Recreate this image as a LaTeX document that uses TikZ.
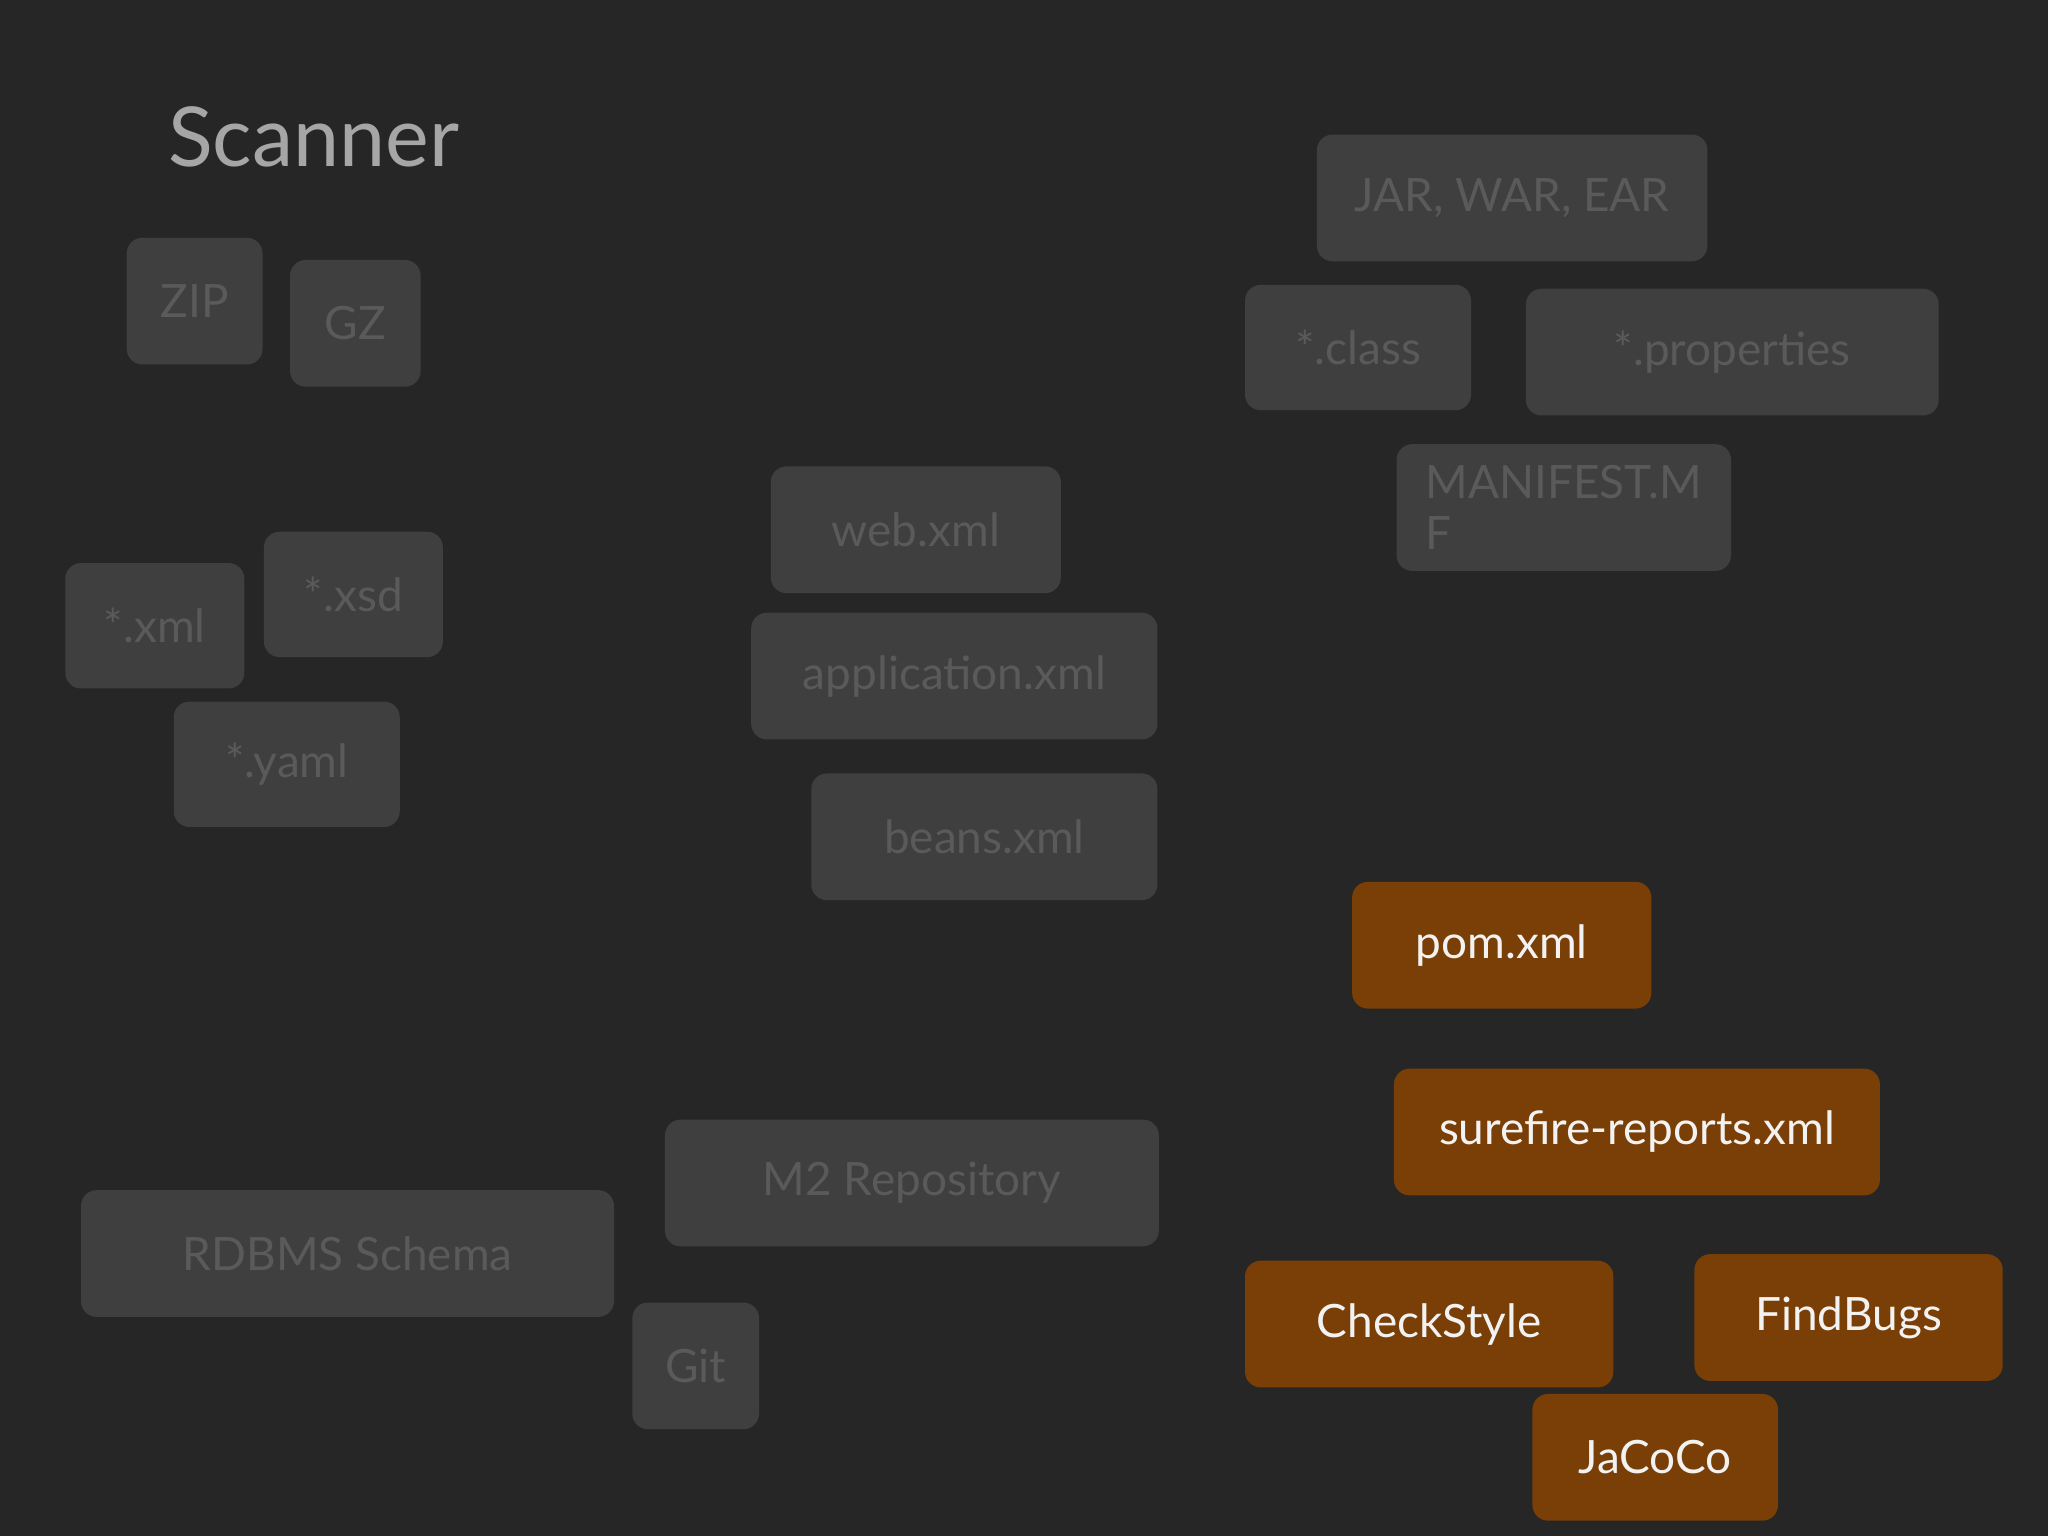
\documentclass[tikz,border=0pt]{standalone}
\usepackage{fontspec}
\setmainfont{Lato}
\definecolor{bg}{HTML}{262626}
\definecolor{gbox}{HTML}{3F3F3F}
\definecolor{gtext}{HTML}{5A5A5A}
\definecolor{obox}{HTML}{7A3F06}
\definecolor{otext}{HTML}{F2F2F2}
\newcommand\bx[7]{\node[#6, minimum width={(#4-#2)*0.02cm}, minimum height={(#5-#3)*0.02cm}] (#1) at ({(#2+#4)/2*0.02},{-(#3+#5)/2*0.02}) {#7};}
\tikzset{
 base/.style={rounded corners=0.24cm, inner sep=0pt, font=\fontsize{20}{22}\selectfont, align=center},
 grey/.style={base, fill=gbox, text=gtext},
 orange/.style={base, fill=obox, text=otext}
}
\begin{document}
\begin{tikzpicture}
\fill[bg] (0,0) rectangle (31.36,-23.52);
\useasboundingbox (0,0) rectangle (31.36,-23.52);
\node[anchor=west, text=gray!70, font=\fontsize{36}{40}\selectfont] (title) at (2.45,-2.1) {Scanner};
\bx{zip}{97}{182}{201}{279}{grey}{ZIP}
\bx{gz}{222}{199}{322}{296}{grey}{GZ}
\bx{jar}{1008}{103}{1307}{200}{grey}{JAR, WAR, EAR}
\bx{cls}{953}{218}{1126}{314}{grey}{*.class}
\bx{prop}{1168}{221}{1484}{318}{grey}{*.properties}
\bx{man}{1069}{340}{1325}{437}{grey,align=left}{MANIFEST.M\\F}
\bx{web}{590}{357}{812}{454}{grey}{web.xml}
\bx{xml}{50}{431}{187}{527}{grey}{*.xml}
\bx{xsd}{202}{407}{339}{503}{grey}{*.xsd}
\bx{yaml}{133}{537}{306}{633}{grey}{*.yaml}
\bx{app}{575}{469}{886}{566}{grey}{application.xml}
\bx{beans}{621}{592}{886}{689}{grey}{beans.xml}
\bx{pom}{1035}{675}{1264}{772}{orange}{pom.xml}
\bx{sure}{1067}{818}{1439}{915}{orange}{surefire-reports.xml}
\bx{m2}{509}{857}{887}{954}{grey}{M2 Repository}
\bx{rdbms}{62}{911}{470}{1008}{grey}{RDBMS Schema}
\bx{git}{484}{997}{581}{1094}{grey}{Git}
\bx{cs}{953}{965}{1235}{1062}{orange}{CheckStyle}
\bx{fb}{1297}{960}{1533}{1057}{orange}{FindBugs}
\bx{jc}{1173}{1067}{1361}{1164}{orange}{JaCoCo}
\end{tikzpicture}
\end{document}
